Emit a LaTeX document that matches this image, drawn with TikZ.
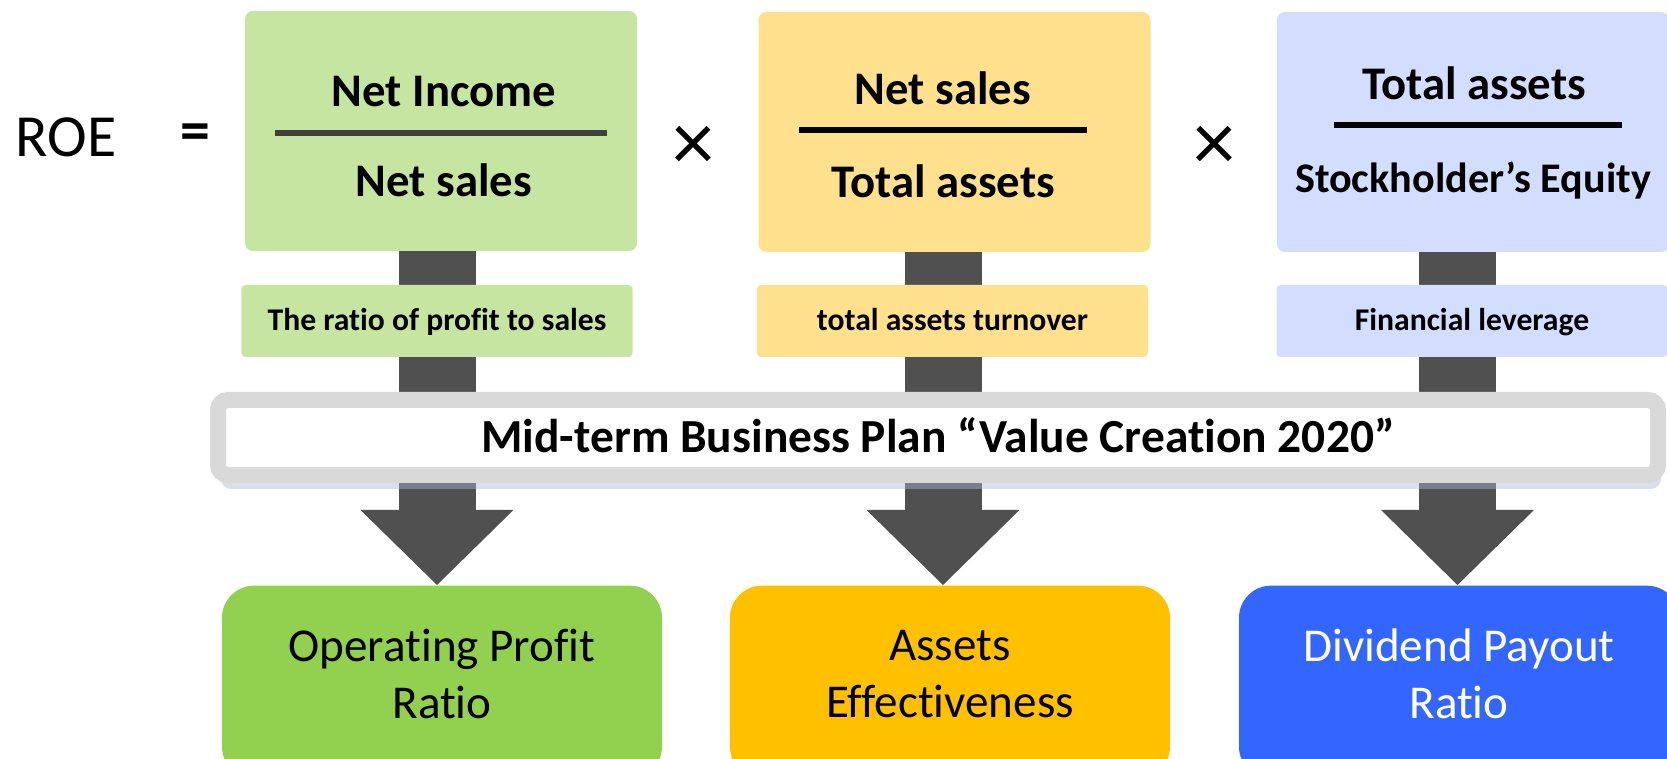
\documentclass[tikz,border=0pt]{standalone}
\usepackage{fontspec}
\setmainfont[Ligatures=NoCommon]{Carlito}
\usetikzlibrary{positioning, arrows.meta, shadows}

\begin{document}
\begin{tikzpicture}[
  fracbox/.style={rounded corners=0.08cm, minimum width=3.92cm, minimum height=2.40cm, inner sep=0pt},
  fractext/.style={anchor=base, inner sep=0pt, font=\fontsize{13.3}{16}\selectfont\bfseries},
  tagbox/.style={rounded corners=0.04cm, minimum width=3.91cm, minimum height=0.72cm, inner sep=0pt,
    text height=0.2cm, text depth=0pt, font=\fontsize{9}{11}\selectfont\bfseries},
  goalbox/.style={rounded corners=0.32cm, minimum width=4.40cm, minimum height=1.93cm, inner sep=0pt},
  goaltext/.style={align=center, inner sep=0pt, font=\fontsize{13.4}{16.2}\selectfont},
  stem/.style={draw=stemgray, line width=0.77cm, -{Triangle[length=0.75cm, width=1.53cm, line width'=0pt]}},
  fracline/.style={line width=0.057cm}
]

% Define colors
\definecolor{topgreen}{RGB}{197, 229, 160}
\definecolor{topyellow}{RGB}{255, 224, 140}
\definecolor{topblue}{RGB}{211, 221, 253}
\definecolor{stemgray}{RGB}{80, 80, 80}
\definecolor{bannergray}{RGB}{217, 217, 217}
\definecolor{bannershadow}{RGB}{170, 185, 210}
\definecolor{goalgreen}{RGB}{146, 208, 80}
\definecolor{goalyellow}{RGB}{255, 192, 0}
\definecolor{goalblue}{RGB}{51, 102, 255}

\clip (0, 0) rectangle (16.67, 7.59);

% Bottom boxes
\node[goalbox, fill=goalgreen, anchor=north] (opr) at (4.42, 1.74) {};
\node[goalbox, fill=goalyellow, anchor=north] (ae) at (9.50, 1.74) {};
\node[goalbox, fill=goalblue, anchor=north] (dpr) at (14.59, 1.74) {};
\node[goaltext] (opr-txt) at (4.42, 0.85) {Operating Profit\\Ratio};
\node[goaltext] (ae-txt) at (9.50, 0.85) {Assets\\Effectiveness};
\node[goaltext, text=white] (dpr-txt) at (14.59, 0.85) {Dividend Payout\\Ratio};

% Thick arrows, drawn behind the upper boxes
\coordinate (s1) at (4.37, 5.3);
\coordinate (s2) at (9.43, 5.3);
\coordinate (s3) at (14.575, 5.3);
\draw[stem] (s1) -- (s1 |- opr.north);
\draw[stem] (s2) -- (s2 |- ae.north);
\draw[stem] (s3) -- (s3 |- dpr.north);

% ROE =
\node[anchor=base, inner sep=0pt, font=\fontsize{17}{20}\selectfont] (roe) at (0.66, 6.02) {ROE};
\node[inner sep=0pt, font=\fontsize{17}{20}\selectfont\bfseries] (eq) at (1.95, 6.22) {=};

% The three ratios
\node[fracbox, fill=topgreen] (pm) at (4.41, 6.28) {};
\node[fractext] (pm-num) at (4.44, 6.52) {Net Income};
\node[fractext] (pm-den) at (4.44, 5.62) {Net sales};
\draw[fracline, draw=black!75] (2.75, 6.26) -- (6.07, 6.26);

\node[inner sep=0pt, font=\fontsize{24}{28}\selectfont] (times1) at (6.935, 6.105) {×};

\node[fracbox, fill=topyellow] (at) at (9.545, 6.27) {};
\node[fractext] (at-num) at (9.43, 6.54) {Net sales};
\node[fractext] (at-den) at (9.43, 5.61) {Total assets};
\draw[fracline] (7.99, 6.29) -- (10.87, 6.29);

\node[inner sep=0pt, font=\fontsize{24}{28}\selectfont] (times2) at (12.15, 6.105) {×};

\node[fracbox, fill=topblue] (fl) at (14.73, 6.27) {};
\node[fractext] (fl-num) at (14.74, 6.59) {Total assets};
\node[fractext, font=\fontsize{12}{14}\selectfont\bfseries] (fl-den) at (14.73, 5.66) {Stockholder’s Equity};
\draw[fracline] (13.34, 6.34) -- (16.22, 6.34);

% Labels on the arrows
\node[tagbox, fill=topgreen] (pm-tag) at (4.37, 4.38) {The ratio of profit to sales};
\node[tagbox, fill=topyellow] (at-tag) at (9.525, 4.38) {total assets turnover};
\node[tagbox, fill=topblue] (fl-tag) at (14.72, 4.38) {Financial leverage};

% The plan banner
\node[draw=bannergray, line width=0.16cm, fill=white, rounded corners=0.1cm,
  minimum width=14.40cm, minimum height=0.75cm, inner sep=0pt,
  text height=0.3cm, text depth=0pt, font=\fontsize{13.5}{16}\selectfont\bfseries,
  drop shadow={shadow xshift=0.03cm, shadow yshift=-0.14cm, fill=bannershadow, opacity=0.45}]
  (plan) at (9.38, 3.215) {Mid-term Business Plan “Value Creation 2020”};

\end{tikzpicture}
\end{document}
